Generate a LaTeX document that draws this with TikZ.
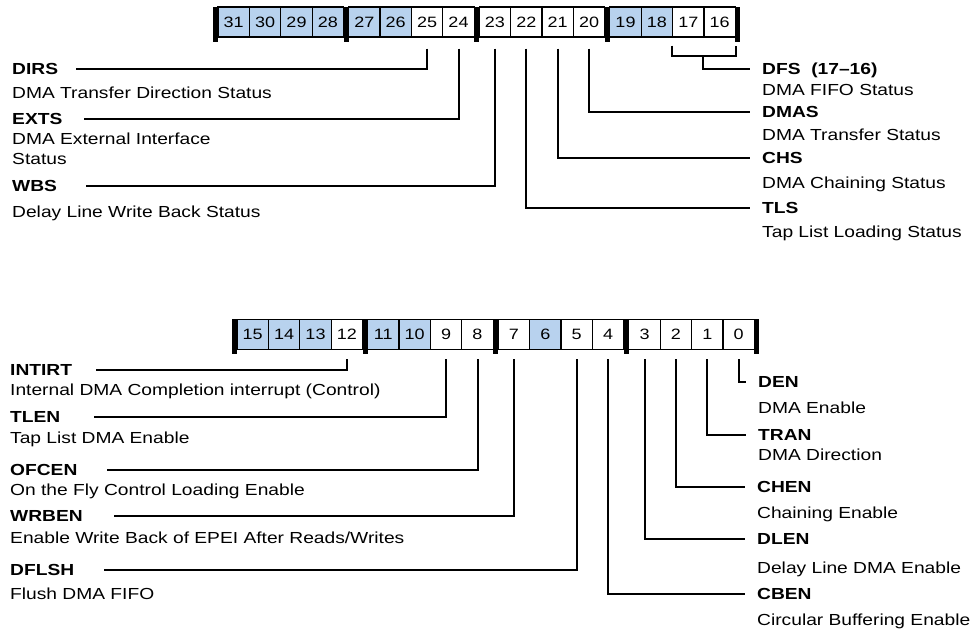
\documentclass[tikz,border=0pt]{standalone}
\usepackage{fontspec}
\setmainfont{Liberation Sans}[FakeStretch=1.2]
\definecolor{regblue}{RGB}{184,210,238}

\begin{document}
\begin{tikzpicture}[x=1pt,y=-1pt,
    cell/.style={draw,line width=1.2pt,minimum width=31.4pt,minimum height=30pt,
      inner sep=0pt,font=\fontsize{15}{17}\selectfont},
    lead/.style={line width=2pt},
    tag/.style={anchor=west,inner sep=0pt,text height=11.5pt,text depth=0pt,
      font=\fontsize{16}{19}\selectfont\bfseries},
    desc/.style={anchor=west,inner sep=0pt,text height=11.5pt,text depth=0pt,
      font=\fontsize{16}{19}\selectfont}]
  \useasboundingbox (0,0) rectangle (972,631);
  % upper register, bits 31..16
  \foreach \b/\f [count=\i from 0] in {31/regblue,30/regblue,29/regblue,28/regblue,
      27/regblue,26/regblue,25/white,24/white,23/white,22/white,21/white,20/white,
      19/regblue,18/regblue,17/white,16/white}{
    \pgfmathsetmacro\cx{213+5*(floor(\i/4)+1)+31.4*(\i+0.5)}
    \node[cell,fill=\f] (b\b) at (\cx,22) {\b};
  }
  \foreach \k in {0,...,4}
    \fill (213+130.6*\k,7) rectangle ++(5,35);
  % lower register, bits 15..0
  \foreach \b/\f [count=\i from 0] in {15/regblue,14/regblue,13/regblue,12/white,
      11/regblue,10/regblue,9/white,8/white,7/white,6/regblue,5/white,4/white,
      3/white,2/white,1/white,0/white}{
    \pgfmathsetmacro\cx{232+5*(floor(\i/4)+1)+31.4*(\i+0.5)}
    \node[cell,fill=\f] (b\b) at (\cx,334.5) {\b};
  }
  \foreach \k in {0,...,4}
    \fill (232+130.6*\k,319) rectangle ++(5,35);

  % upper fields, left
  \node[tag]  (dirs)   at (12,69)  {DIRS};
  \node[desc] (dirsd)  at (12,93)  {DMA Transfer Direction Status};
  \node[tag]  (exts)   at (12,119) {EXTS};
  \node[desc] (extsd)  at (12,139) {DMA External Interface};
  \node[desc] (extsd2) at (12,159) {Status};
  \node[tag]  (wbs)    at (12,186) {WBS};
  \node[desc] (wbsd)   at (12,212) {Delay Line Write Back Status};
  \draw[lead,shorten <=11pt] (b25.south) |- ([xshift=18pt]dirs.east);
  \draw[lead,shorten <=11pt] (b24.south) |- ([xshift=21pt]exts.east);
  \draw[lead,shorten <=11pt] (b23.south) |- ([xshift=29pt]wbs.east);
  % upper fields, right
  \node[tag]  (dfs)   at (762,69)  {DFS\ \ (17--16)};
  \node[desc] (dfsd)  at (762,90)  {DMA FIFO Status};
  \node[tag]  (dmas)  at (762,112) {DMAS};
  \node[desc] (dmasd) at (762,135) {DMA Transfer Status};
  \node[tag]  (chs)   at (762,158) {CHS};
  \node[desc] (chsd)  at (762,183) {DMA Chaining Status};
  \node[tag]  (tls)   at (762,208) {TLS};
  \node[desc] (tlsd)  at (762,232) {Tap List Loading Status};
  \draw[lead] ([yshift=-8pt]b17.south west) -- ([yshift=-18pt]b17.south west)
    -| ([yshift=-8pt]b16.south east);
  \draw[lead] ([yshift=-18pt]b16.south west) |- ([xshift=-12pt]dfs.west);
  \draw[lead,shorten <=11pt] (b20.south) |- ([xshift=-12pt]dmas.west);
  \draw[lead,shorten <=11pt] (b21.south) |- ([xshift=-12pt]chs.west);
  \draw[lead,shorten <=11pt] (b22.south) |- ([xshift=-12pt]tls.west);

  % lower fields, left
  \node[tag]  (intirt)  at (10,370) {INTIRT};
  \node[desc] (intirtd) at (10,390) {Internal DMA Completion interrupt (Control)};
  \node[tag]  (tlen)    at (10,417) {TLEN};
  \node[desc] (tlend)   at (10,438) {Tap List DMA Enable};
  \node[tag]  (ofcen)   at (10,470) {OFCEN};
  \node[desc] (ofcend)  at (10,490) {On the Fly Control Loading Enable};
  \node[tag]  (wrben)   at (10,516) {WRBEN};
  \node[desc] (wrbend)  at (10,538) {Enable Write Back of EPEI After Reads/Writes};
  \node[tag]  (dflsh)   at (10,570) {DFLSH};
  \node[desc] (dflshd)  at (10,594) {Flush DMA FIFO};
  \draw[lead,shorten <=9pt] (b12.south) |- ([xshift=24pt]intirt.east);
  \draw[lead,shorten <=9pt] (b9.south)  |- ([xshift=33pt]tlen.east);
  \draw[lead,shorten <=9pt] (b8.south)  |- ([xshift=29pt]ofcen.east);
  \draw[lead,shorten <=9pt] (b7.south)  |- ([xshift=31pt]wrben.east);
  \draw[lead,shorten <=9pt] (b5.south)  |- ([xshift=30pt]dflsh.east);
  % lower fields, right
  \node[tag]  (den)   at (758,382) {DEN};
  \node[desc] (dend)  at (758,408) {DMA Enable};
  \node[tag]  (tran)  at (758,435) {TRAN};
  \node[desc] (trand) at (758,455) {DMA Direction};
  \node[tag]  (chen)  at (757,487) {CHEN};
  \node[desc] (chend) at (757,513) {Chaining Enable};
  \node[tag]  (dlen)  at (757,539) {DLEN};
  \node[desc] (dlend) at (757,568) {Delay Line DMA Enable};
  \node[tag]  (cben)  at (757,594) {CBEN};
  \node[desc] (cbend) at (757,620) {Circular Buffering Enable};
  \draw[lead,shorten <=9pt] (b0.south) |- ([xshift=-12pt]den.west);
  \draw[lead,shorten <=9pt] (b1.south) |- ([xshift=-12pt]tran.west);
  \draw[lead,shorten <=9pt] (b2.south) |- ([xshift=-12pt]chen.west);
  \draw[lead,shorten <=9pt] (b3.south) |- ([xshift=-12pt]dlen.west);
  \draw[lead,shorten <=9pt] (b4.south) |- ([xshift=-12pt]cben.west);
\end{tikzpicture}
\end{document}
